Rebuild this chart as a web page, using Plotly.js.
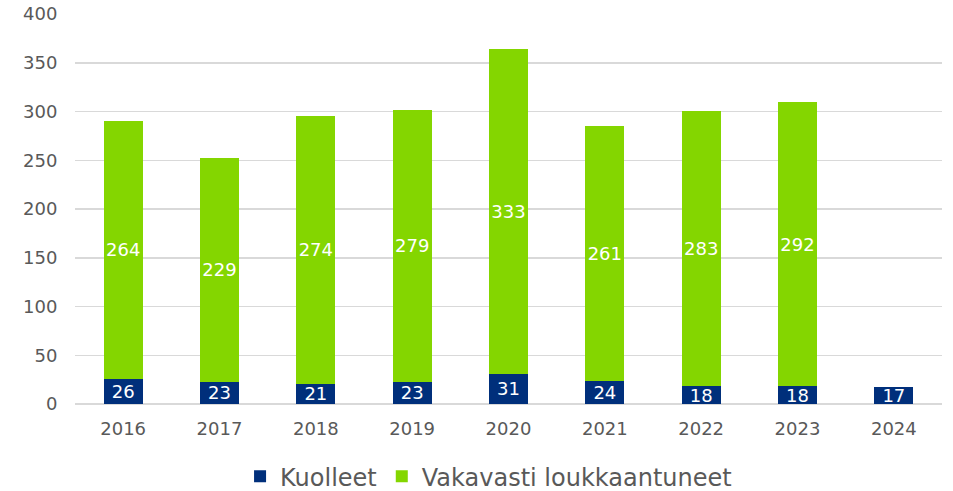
<!DOCTYPE html>
<html><head><meta charset="utf-8">
<script src="https://cdn.plot.ly/plotly-3.0.1.min.js"></script>
<style>html,body{margin:0;padding:0;background:#fff}#c{width:953px;height:491px}</style>
</head><body><div id="c"></div>
<script>
const years = ['2016','2017','2018','2019','2020','2021','2022','2023','2024'];
const kuolleet = [26,23,21,23,31,24,18,18,17];
const vakavasti = [264,229,274,279,333,261,283,292,null];
const yTicks = [0,50,100,150,200,250,300,350,400];

const font = {family:'DejaVu Sans, Verdana, sans-serif', color:'#595959'};
const traces = [
  {type:'bar', name:'Kuolleet', x:years, y:kuolleet, marker:{color:'#002F7B'},
   text:kuolleet.map(String), textposition:'inside', insidetextanchor:'middle', textangle:0,
   constraintext:'none', textfont:{family:font.family,size:18,color:'#ffffff'}, hoverinfo:'skip'},
  {type:'bar', name:'Vakavasti loukkaantuneet', x:years, y:vakavasti, marker:{color:'#84D600'},
   text:vakavasti.map(v=>v==null?'':String(v)), textposition:'inside', insidetextanchor:'middle', textangle:0,
   constraintext:'none', textfont:{family:font.family,size:18,color:'#ffffff'}, hoverinfo:'skip'}
];
const layout = {
  width:953, height:491, barmode:'stack', bargap:0.595,
  margin:{l:75, r:11, t:14, b:87},
  paper_bgcolor:'#fff', plot_bgcolor:'#fff',
  font:{family:font.family, color:font.color, size:18},
  showlegend:true,
  legend:{orientation:'h', x:0.477, xanchor:'center', yref:'container', y:0.029, yanchor:'middle',
          font:{size:24, color:'#595959'}, itemclick:false, traceorder:'normal'},
  xaxis:{type:'category', showgrid:false, zeroline:false, showline:false,
         ticks:'outside', ticklen:8, tickcolor:'rgba(0,0,0,0)', tickfont:{size:18, color:'#595959'}},
  yaxis:{range:[0,400], tickvals:yTicks, ticktext:yTicks.map(String), showgrid:true, gridcolor:'#D9D9D9', gridwidth:1.5,
         zeroline:true, zerolinecolor:'#D9D9D9', zerolinewidth:1.5, showline:false,
         ticks:'outside', ticklen:13, tickcolor:'rgba(0,0,0,0)', tickfont:{size:18, color:'#595959'}}
};
Plotly.newPlot('c', traces, layout, {displayModeBar:false, staticPlot:true});
</script></body></html>
